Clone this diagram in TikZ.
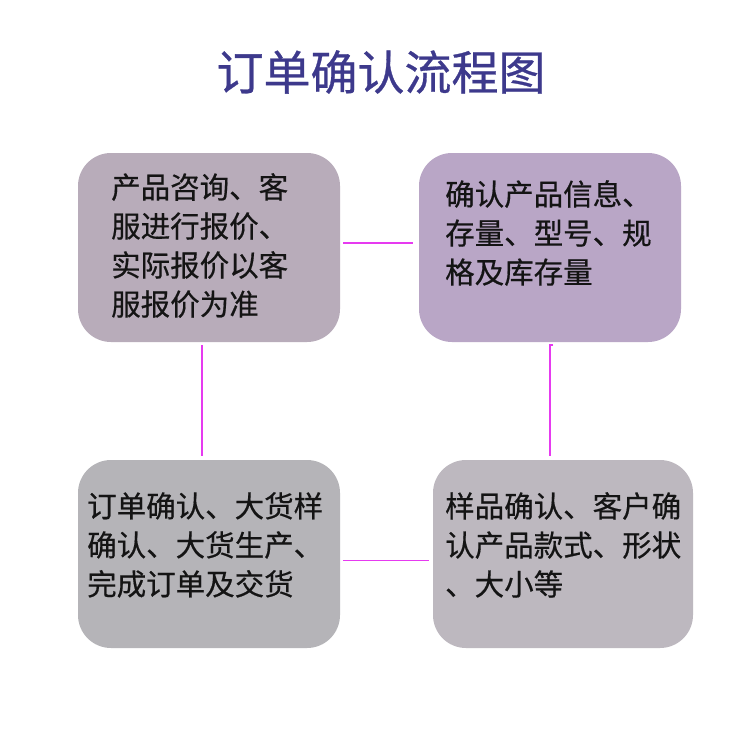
\documentclass[tikz,border=0pt]{standalone}
\usepackage{fontspec}
\newfontfamily\cjk[FakeBold=0.5]{Noto Sans CJK SC}
\newfontfamily\cjktitle[FakeBold=0.6]{Noto Sans CJK SC}
\definecolor{titlec}{RGB}{61,57,140}
\definecolor{boxa}{RGB}{184,172,186}
\definecolor{boxb}{RGB}{185,166,198}
\definecolor{boxc}{RGB}{181,180,184}
\definecolor{boxd}{RGB}{189,184,191}
\definecolor{linkc}{RGB}{230,58,240}
\definecolor{txt}{RGB}{20,20,20}
\tikzset{
  card/.style={rectangle, rounded corners=33pt, minimum width=262pt, minimum height=189pt, inner sep=0pt, draw=none},
  cardtext/.style={anchor=north west, inner sep=0pt, align=left, text=txt, font=\cjk\fontsize{29.5}{39}\selectfont},
  link/.style={draw=linkc, line width=1.2pt}
}
\begin{document}
\begin{tikzpicture}[x=1pt,y=-1pt]
\fill[white] (0,0) rectangle (750,750);
\useasboundingbox (0,0) rectangle (750,750);
\node[text=titlec, font=\cjktitle\fontsize{47}{50}\selectfont, inner sep=0pt] (title) at (381,72) {订单确认流程图};
\node[card, fill=boxa] (b1) at (209,247.5) {};
\node[card, fill=boxb] (b2) at (550,247.5) {};
\node[card, fill=boxc, minimum height=188pt] (b3) at (209,554) {};
\node[card, fill=boxd, minimum height=188pt, minimum width=260pt] (b4) at (563,554) {};
\node[cardtext] (t1) at (111,173) {产品咨询、客\\服进行报价、\\实际报价以客\\服报价为准};
\node[cardtext] (t2) at (445,180) {确认产品信息、\\存量、型号、规\\格及库存量};
\node[cardtext] (t3) at (87,492) {订单确认、大货样\\确认、大货生产、\\完成订单及交货};
\node[cardtext] (t4) at (445,492) {样品确认、客户确\\认产品款式、形状\\、大小等};
\coordinate (k1) at (553,345);
\coordinate (k2) at (550,345);
\draw[link, shorten <=3pt, shorten >=6pt] ([yshift=4.5pt]b1.east) -- ([yshift=4.5pt]b2.west);
\draw[link, shorten <=3pt, shorten >=4pt] ([xshift=-7pt]b1.south) -- ([xshift=-7pt]b3.north);
\draw[link, shorten <=3pt, shorten >=4pt] ([yshift=-6.5pt]b3.east) -- ([yshift=-6.5pt]b4.west);
\draw[link] (k1) -- (k2) -- ([xshift=-13pt,yshift=4pt]b4.north);
\end{tikzpicture}
\end{document}
